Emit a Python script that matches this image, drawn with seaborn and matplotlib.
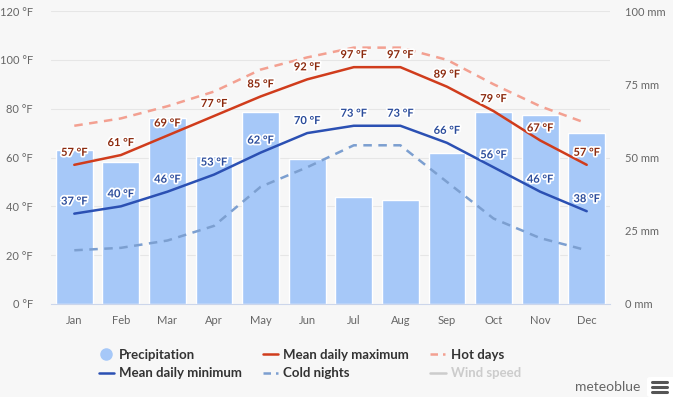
import matplotlib
matplotlib.use("Agg")
import matplotlib.pyplot as plt
import matplotlib.patheffects as pe
from matplotlib.lines import Line2D
from matplotlib.patches import FancyBboxPatch
import seaborn as sns
import pandas as pd
import numpy as np

months = ['Jan', 'Feb', 'Mar', 'Apr', 'May', 'Jun', 'Jul', 'Aug', 'Sep', 'Oct', 'Nov', 'Dec']
precip_mm = [52.5, 48.5, 63.5, 50.5, 65.5, 49.5, 36.5, 35.5, 51.5, 65.5, 64.5, 58.5]
mean_max = [57, 61, 69, 77, 85, 92, 97, 97, 89, 79, 67, 57]
mean_min = [37, 40, 46, 53, 62, 70, 73, 73, 66, 56, 46, 38]
hot_days = [73, 76, 81, 87, 96, 101, 105, 105, 100, 90, 81, 74]
cold_nights = [22, 23, 26, 32, 48, 56, 65, 65, 50, 35, 27, 22]

df = pd.DataFrame({'Month': months, 'pos': np.arange(len(months)), 'Precip': precip_mm,
                   'Max': mean_max, 'Min': mean_min, 'Hot': hot_days, 'Cold': cold_nights})

sns.set_style('white')
plt.rcParams['font.family'] = ['Lato', 'DejaVu Sans']

bg = '#f7f7f7'
fig = plt.figure(figsize=(6.73, 3.97), dpi=100, facecolor=bg)
ax = fig.add_axes([51 / 673, 93 / 397, 559 / 673, 293 / 397])
ax.set_facecolor(bg)

# precipitation bars on the mm axis (drawn first, underneath)
sns.barplot(data=df, x='pos', y='Precip', color='#a6c8f8', saturation=1, width=0.79, ax=ax)
ax.set_ylim(0, 100)
ax.set_xlim(-0.5, 11.5)
ax.set_xticks(range(12))
ax.set_xticklabels(months)
ax.tick_params(axis='x', length=0, pad=8, labelsize=8, labelcolor='#666666')
ax.set_xlabel('')
ax.set_ylabel('')
for t in range(20, 121, 20):
    ax.axhline(t * 100 / 120, color='#e6e6e6', lw=0.8, zorder=0)

# temperature axis on top
ax2 = ax.twinx()
ax.yaxis.tick_right()
ax.set_yticks([0, 25, 50, 75, 100])
ax.set_yticklabels([f'{t} mm' for t in [0, 25, 50, 75, 100]], ha='left')
ax.tick_params(axis='y', left=False, labelleft=False, right=False, labelright=True,
               length=0, pad=11, labelsize=8, labelcolor='#666666')

ax2.yaxis.tick_left()
ax2.set_ylim(0, 120)
ax2.set_yticks(range(0, 121, 20))
ax2.set_yticklabels([f'{t} °F' for t in range(0, 121, 20)])
ax2.tick_params(axis='y', length=0, pad=13, labelsize=8, labelcolor='#666666',
                right=False, labelright=False)

sns.lineplot(data=df, x='pos', y='Hot', color='#f3a091', lw=1.8, dashes=(3.4, 2.6), ax=ax2)
sns.lineplot(data=df, x='pos', y='Cold', color='#7c9fd0', lw=1.8, dashes=(3.4, 2.6), ax=ax2)
sns.lineplot(data=df, x='pos', y='Max', color='#d03c1c', lw=1.8, ax=ax2)
sns.lineplot(data=df, x='pos', y='Min', color='#2b50b3', lw=1.8, ax=ax2)
ax2.set_xlim(-0.5, 11.5)
ax2.set_ylabel('')
ax2.set_xlabel('')

stroke = [pe.withStroke(linewidth=2.5, foreground='white')]
for i in range(len(months)):
    ax2.annotate(f'{mean_max[i]} °F', (i, mean_max[i]), xytext=(0, 9), textcoords='offset points',
                 ha='center', va='center', fontsize=8, fontweight='bold', color='#8c2a0e',
                 path_effects=stroke)
    ax2.annotate(f'{mean_min[i]} °F', (i, mean_min[i]), xytext=(0, 9), textcoords='offset points',
                 ha='center', va='center', fontsize=8, fontweight='bold', color='#2b4c9b',
                 path_effects=stroke)

for a in (ax, ax2):
    for s in a.spines.values():
        s.set_visible(False)
ax.spines['bottom'].set_visible(True)
ax.spines['bottom'].set_color('#ccd6eb')

handles = [
    Line2D([], [], marker='o', ls='', ms=8, color='#a6c8f8'),
    Line2D([], [], color='#2b50b3', lw=1.8),
    Line2D([], [], color='#d03c1c', lw=1.8),
    Line2D([], [], color='#7c9fd0', lw=1.8, dashes=(3, 2, 1, 2)),
    Line2D([], [], color='#f3a091', lw=1.8, dashes=(3, 2, 1, 2)),
    Line2D([], [], color='#cccccc', lw=1.8),
]
labels = ['Precipitation', 'Mean daily minimum', 'Mean daily maximum', 'Cold nights', 'Hot days', 'Wind speed']
leg = fig.legend(handles, labels, ncol=3, loc='upper left', bbox_to_anchor=(92 / 673, 1 - 342 / 397),
                 frameon=False, borderpad=0, handlelength=1.15, handletextpad=0.4, columnspacing=1.6,
                 labelspacing=0.5, prop={'size': 9.5, 'weight': 'bold'})
for txt in leg.get_texts():
    txt.set_color('#333333')
leg.get_texts()[-1].set_color('#cccccc')

fig.patches.append(FancyBboxPatch((647 / 673, 0), 30 / 673, 20 / 397, boxstyle='round,pad=0,rounding_size=0.005',
                                  transform=fig.transFigure, facecolor='white', edgecolor='none'))
fig.text(640 / 673, 1 - 387 / 397, 'meteoblue', ha='right', va='center', fontsize=10, color='#666666')
for dy in (-5, 0, 5):
    fig.add_artist(Line2D([652 / 673, 667 / 673], [1 - (387 + dy) / 397] * 2, color='#555555', lw=2.2))

fig.savefig('out.png', dpi=100, facecolor=bg)
